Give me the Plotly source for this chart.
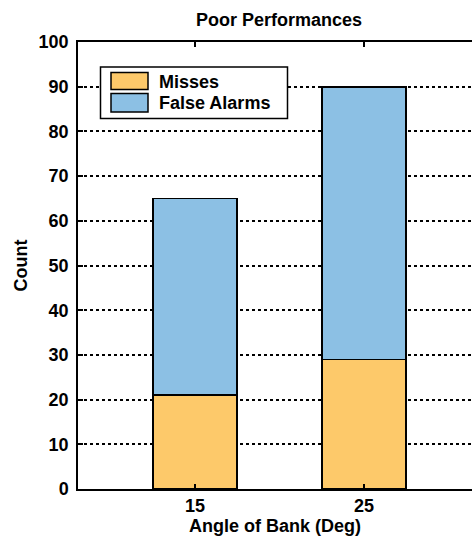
import plotly.graph_objects as go

angles = [15, 25]
angle_labels = ["15", "25"]
misses = [21, 29]
false_alarms = [44, 61]
y_ticks = [0, 10, 20, 30, 40, 50, 60, 70, 80, 90, 100]
series_names = ["Misses", "False Alarms"]
series_colors = ["#FDC96A", "#8CC0E4"]

FONT = "Liberation Sans, Arial, sans-serif"
W, H = 472, 536
L, R, T, B = 78, 0, 42, 47
PW, PH = W - L - R, H - T - B


def px_x(px):
    return (px - L) / PW


def px_y(py):
    return (H - B - py) / PH


fig = go.Figure()
for name, vals, col in zip(series_names, [misses, false_alarms], series_colors):
    fig.add_trace(go.Bar(
        x=angles, y=vals, name=name, width=5, showlegend=False,
        marker=dict(color=col, line=dict(color="black", width=1.6)),
    ))

# legend drawn as a box with swatches and text
shapes = [dict(type="rect", xref="paper", yref="paper",
               x0=px_x(100.5), x1=px_x(287.5), y0=px_y(118.5), y1=px_y(67),
               line=dict(color="black", width=1.5), fillcolor="white", layer="above")]
annotations = []
sw_rows = [(72.5, 89.5, 81.5), (93.5, 112, 102.5)]
for (top, bot, mid), name, col in zip(sw_rows, series_names, series_colors):
    shapes.append(dict(type="rect", xref="paper", yref="paper",
                       x0=px_x(111), x1=px_x(148), y0=px_y(bot), y1=px_y(top),
                       line=dict(color="black", width=1.5), fillcolor=col, layer="above"))
    annotations.append(dict(text=name, xref="paper", yref="paper",
                            x=px_x(157), y=px_y(mid), xanchor="left", yanchor="middle",
                            showarrow=False,
                            font=dict(family=FONT, size=18, color="black", weight="bold")))

fig.update_layout(
    width=W, height=H,
    margin=dict(l=L, r=R, t=T, b=B),
    barmode="stack",
    plot_bgcolor="white", paper_bgcolor="white",
    font=dict(family=FONT, size=18, color="black", weight="bold"),
    showlegend=False,
    shapes=shapes,
    annotations=annotations,
    title=dict(text="Poor Performances", x=279 / W, xanchor="center",
               y=1 - 20 / H, yref="container", yanchor="middle",
               font=dict(family=FONT, size=18, color="black", weight="bold")),
    xaxis=dict(
        range=[8.08, 31.39], tickmode="array", tickvals=angles, ticktext=angle_labels,
        showline=True, linecolor="black", linewidth=1.5, mirror="ticks",
        ticks="inside", ticklen=5, tickcolor="black", tickwidth=1.5,
        showgrid=False, zeroline=False,
        title=dict(text="Angle of Bank (Deg)", standoff=1,
                   font=dict(family=FONT, size=18, color="black", weight="bold")),
        tickfont=dict(family=FONT, size=18, color="black", weight="bold"),
    ),
    yaxis=dict(
        range=[0, 100], tickmode="array", tickvals=y_ticks,
        showline=True, linecolor="black", linewidth=1.5, mirror=False,
        ticks="inside", ticklen=5, tickcolor="black", tickwidth=1.5,
        showgrid=True, gridcolor="black", gridwidth=1.5, griddash="dot",
        zeroline=False, ticklabelstandoff=4,
        title=dict(text="Count", standoff=6,
                   font=dict(family=FONT, size=18, color="black", weight="bold")),
        tickfont=dict(family=FONT, size=18, color="black", weight="bold"),
    ),
)

fig.write_html("out.html")
